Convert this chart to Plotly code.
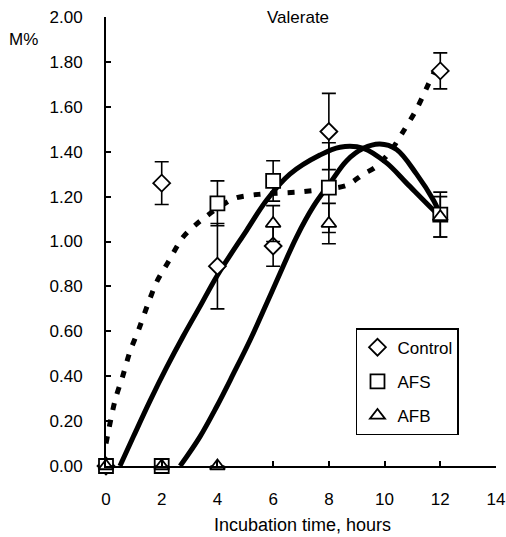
import plotly.graph_objects as go

# ---- data ----
hours = [0, 2, 4, 6, 8, 12]
control = [0.00, 1.26, 0.89, 0.98, 1.49, 1.76]
control_err = [0.00, 0.095, 0.19, 0.09, 0.17, 0.08]
afs = [0.00, 0.00, 1.17, 1.27, 1.24, 1.12]
afs_err = [0.00, 0.00, 0.10, 0.09, 0.20, 0.10]
afb = [0.00, 0.00, 0.00, 1.08, 1.08, 1.11]
afb_err = [0.00, 0.00, 0.00, 0.08, 0.09, 0.09]

# trend curves
control_fit_t = [0.0, 0.32, 0.6, 0.86, 1.18, 1.5, 1.82, 2.24, 2.77, 3.37, 4.57, 5.47, 6.9, 8.0, 8.64, 9.24, 9.66, 10.2, 10.67, 11.15, 11.57, 11.8]
control_fit_y = [0.10, 0.29, 0.40, 0.51, 0.61, 0.72, 0.82, 0.91, 1.02, 1.09, 1.19, 1.21, 1.22, 1.235, 1.25, 1.30, 1.33, 1.40, 1.49, 1.59, 1.70, 1.76]
afs_fit_t = [0.5, 0.98, 1.58, 2.18, 2.78, 3.37, 4.0, 5.05, 5.77, 6.6, 7.68, 8.4, 9.24, 10.07, 10.79, 11.75, 12.0]
afs_fit_y = [0.0, 0.13, 0.29, 0.44, 0.58, 0.71, 0.85, 1.05, 1.185, 1.30, 1.385, 1.42, 1.415, 1.35, 1.26, 1.14, 1.11]
afb_fit_t = [2.66, 3.37, 3.97, 4.57, 5.17, 5.77, 6.36, 6.84, 7.44, 8.04, 8.64, 9.24, 9.83, 10.43, 11.15, 11.75, 12.0]
afb_fit_y = [0.0, 0.13, 0.264, 0.41, 0.56, 0.725, 0.89, 1.02, 1.155, 1.26, 1.36, 1.415, 1.434, 1.41, 1.30, 1.185, 1.12]

x_ticks = [0, 2, 4, 6, 8, 10, 12, 14]
y_ticks = [0.0, 0.2, 0.4, 0.6, 0.8, 1.0, 1.2, 1.4, 1.6, 1.8, 2.0]

FONT = "Liberation Sans, Arial, sans-serif"

fig = go.Figure()

# fitted curves
fig.add_trace(go.Scatter(x=control_fit_t, y=control_fit_y, mode="lines", showlegend=False,
                         line=dict(color="black", width=5, dash="7px,10px", shape="spline", smoothing=0.8),
                         hoverinfo="skip"))
fig.add_trace(go.Scatter(x=afs_fit_t, y=afs_fit_y, mode="lines", showlegend=False,
                         line=dict(color="black", width=5, shape="spline", smoothing=1.0),
                         hoverinfo="skip"))
fig.add_trace(go.Scatter(x=afb_fit_t, y=afb_fit_y, mode="lines", showlegend=False,
                         line=dict(color="black", width=5, shape="spline", smoothing=1.0),
                         hoverinfo="skip"))

def err(vals):
    return dict(type="data", array=vals, visible=True, color="black", thickness=1.6, width=7)

fig.add_trace(go.Scatter(x=hours, y=control, mode="markers", name="Control", legendgroup="a",
                         error_y=err(control_err), cliponaxis=False,
                         marker=dict(symbol="diamond", size=13, color="white",
                                     line=dict(color="black", width=1.8))))
fig.add_trace(go.Scatter(x=hours, y=afs, mode="markers", name="AFS", legendgroup="b",
                         error_y=err(afs_err), cliponaxis=False,
                         marker=dict(symbol="square", size=14, color="white",
                                     line=dict(color="black", width=1.8))))
fig.add_trace(go.Scatter(x=hours, y=afb, mode="markers", name="AFB", legendgroup="c",
                         error_y=err(afb_err), cliponaxis=False,
                         marker=dict(symbol="triangle-up", size=13, color="white",
                                     line=dict(color="black", width=1.8))))

fig.update_layout(
    width=506, height=537,
    margin=dict(l=106, r=10, t=17, b=71, autoexpand=False),
    paper_bgcolor="white", plot_bgcolor="white",
    font=dict(family=FONT, size=17, color="black"),
    showlegend=True,
    hovermode=False,
    legend=dict(x=0.641, y=0.307, xanchor="left", yanchor="top",
                bordercolor="black", borderwidth=1.5, bgcolor="white",
                font=dict(size=17, family=FONT), traceorder="grouped",
                tracegroupgap=9, itemwidth=30),
    xaxis=dict(range=[0, 14], tickvals=x_ticks, showgrid=False, zeroline=False,
               showline=True, linecolor="black", linewidth=2, automargin=False,
               ticks="inside", ticklen=5, tickwidth=1.5, tickcolor="black",
               ticklabelstandoff=17, ticklabeloverflow="allow", tickfont=dict(size=17)),
    yaxis=dict(range=[0, 2], tickvals=y_ticks, tickformat=".2f", showgrid=False, zeroline=False,
               showline=True, linecolor="black", linewidth=2, automargin=False,
               ticks="inside", ticklen=5, tickwidth=1.5, tickcolor="black",
               ticklabelstandoff=18, ticklabeloverflow="allow", tickfont=dict(size=17)),
    annotations=[
        dict(text="Valerate", x=0.492, y=1.0, xref="paper", yref="paper",
             xanchor="center", yanchor="middle", showarrow=False, font=dict(size=17)),
        dict(text="M%", x=-0.212, y=0.949, xref="paper", yref="paper",
             xanchor="center", yanchor="middle", showarrow=False, font=dict(size=17)),
        dict(text="Incubation time, hours", x=0.503, y=-0.131, xref="paper", yref="paper",
             xanchor="center", yanchor="middle", showarrow=False, font=dict(size=18)),
    ],
)

fig.write_html("out.html", config={"displayModeBar": False},
               post_script="document.body.style.margin='0px';")
